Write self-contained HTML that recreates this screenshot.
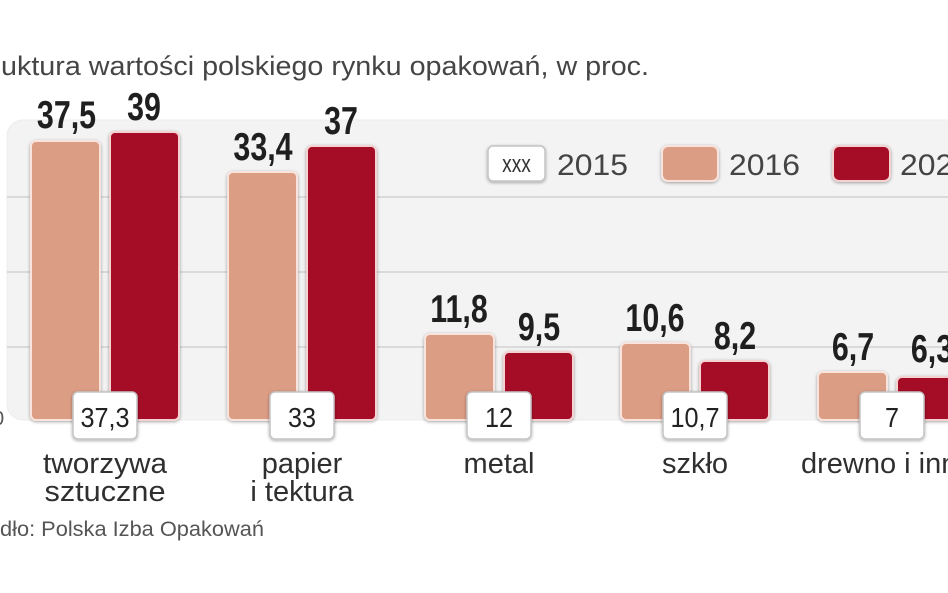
<!DOCTYPE html>
<html>
<head>
<meta charset="utf-8">
<style>
html,body{margin:0;padding:0;background:#fff;}
svg{display:block;}
</style>
</head>
<body>
<svg width="948" height="593" viewBox="0 0 948 593" xmlns="http://www.w3.org/2000/svg">
  <defs>
    <filter id="sh" x="-10%" y="-10%" width="120%" height="130%">
      <feGaussianBlur in="SourceAlpha" stdDeviation="1.5"/>
      <feOffset dx="0" dy="1" result="b"/>
      <feComponentTransfer><feFuncA type="linear" slope="0.35"/></feComponentTransfer>
      <feMerge><feMergeNode/><feMergeNode in="SourceGraphic"/></feMerge>
    </filter>
  </defs>

  <!-- title -->
  <text x="1" y="75" font-family="Liberation Sans, sans-serif" font-size="27" fill="#454545" textLength="648" lengthAdjust="spacingAndGlyphs">uktura wartości polskiego rynku opakowań, w proc.</text>

  <!-- panel -->
  <rect x="7" y="120" width="960" height="300" rx="16" ry="16" fill="#f3f3f3"/>
  <rect x="7" y="120" width="960" height="300" rx="16" ry="16" fill="none" stroke="#ececec" stroke-width="1"/>

  <!-- gridlines -->
  <g stroke="#d2d2d2" stroke-width="1.5">
    <line x1="7" y1="197" x2="948" y2="197"/>
    <line x1="7" y1="272" x2="948" y2="272"/>
    <line x1="7" y1="347" x2="948" y2="347"/>
  </g>

  <!-- zero label -->
  <text x="-7" y="425" font-family="Liberation Sans, sans-serif" font-size="20" fill="#555">0</text>

  <!-- legend -->
  <g filter="url(#sh)">
    <rect x="488" y="146" width="57" height="35" rx="5" fill="#fff" stroke="#c4c4c4" stroke-width="1.5"/>
    <rect x="662" y="146" width="56" height="35" rx="6" fill="#dc9d85" stroke="#f8e4dc" stroke-width="2"/>
    <rect x="833" y="146" width="57" height="35" rx="6" fill="#a50e28" stroke="#f5d2d2" stroke-width="2"/>
  </g>
  <text transform="translate(516.5,172) scale(0.8,1)" text-anchor="middle" font-family="Liberation Sans, sans-serif" font-size="24" fill="#333">xxx</text>
  <g font-family="Liberation Sans, sans-serif" font-size="30" fill="#444">
    <text x="557" y="175" textLength="71" lengthAdjust="spacingAndGlyphs">2015</text>
    <text x="729" y="175" textLength="71" lengthAdjust="spacingAndGlyphs">2016</text>
    <text x="900" y="175" textLength="71" lengthAdjust="spacingAndGlyphs">2020</text>
  </g>

  <!-- bars -->
  <g filter="url(#sh)">
    <g fill="#dc9d85" stroke="#f8e4dc" stroke-width="2">
      <rect x="31" y="141" width="69" height="279" rx="5"/>
      <rect x="228" y="172" width="69" height="248" rx="5"/>
      <rect x="425" y="334" width="69" height="86" rx="5"/>
      <rect x="621" y="343" width="69" height="77" rx="5"/>
      <rect x="818" y="372" width="69" height="48" rx="5"/>
    </g>
    <g fill="#a50e28" stroke="#f5d2d2" stroke-width="2">
      <rect x="110" y="132" width="69" height="288" rx="5"/>
      <rect x="307" y="146" width="69" height="274" rx="5"/>
      <rect x="504" y="352" width="69" height="68" rx="5"/>
      <rect x="700" y="361" width="69" height="59" rx="5"/>
      <rect x="897" y="377" width="69" height="43" rx="5"/>
    </g>
  </g>

  <!-- value labels -->
  <g font-family="Liberation Sans, sans-serif" font-weight="bold" font-size="39" fill="#1f1f1f" text-anchor="middle">
    <text transform="translate(66.5,128) scale(0.78,1)">37,5</text>
    <text transform="translate(144,120) scale(0.78,1)">39</text>
    <text transform="translate(263,160) scale(0.78,1)">33,4</text>
    <text transform="translate(341,134) scale(0.78,1)">37</text>
    <text transform="translate(459,322) scale(0.78,1)">11,8</text>
    <text transform="translate(539,340) scale(0.78,1)">9,5</text>
    <text transform="translate(655,331) scale(0.78,1)">10,6</text>
    <text transform="translate(735,349) scale(0.78,1)">8,2</text>
    <text transform="translate(853,360) scale(0.78,1)">6,7</text>
    <text transform="translate(932,362) scale(0.78,1)">6,3</text>
  </g>

  <!-- 2015 boxes -->
  <g filter="url(#sh)">
    <rect x="73" y="392" width="64" height="47" rx="5" fill="#fff" stroke="#c4c4c4" stroke-width="1.5"/>
    <rect x="270" y="392" width="64" height="47" rx="5" fill="#fff" stroke="#c4c4c4" stroke-width="1.5"/>
    <rect x="467" y="392" width="64" height="47" rx="5" fill="#fff" stroke="#c4c4c4" stroke-width="1.5"/>
    <rect x="663" y="392" width="64" height="47" rx="5" fill="#fff" stroke="#c4c4c4" stroke-width="1.5"/>
    <rect x="860" y="392" width="64" height="47" rx="5" fill="#fff" stroke="#c4c4c4" stroke-width="1.5"/>
  </g>
  <g font-family="Liberation Sans, sans-serif" font-size="28" fill="#222" text-anchor="middle">
    <text transform="translate(105,427) scale(0.9,1)">37,3</text>
    <text transform="translate(302,427) scale(0.9,1)">33</text>
    <text transform="translate(499,427) scale(0.9,1)">12</text>
    <text transform="translate(695,427) scale(0.9,1)">10,7</text>
    <text transform="translate(892,427) scale(0.9,1)">7</text>
  </g>

  <!-- category labels -->
  <g font-family="Liberation Sans, sans-serif" font-size="29" fill="#2f2f2f" text-anchor="middle">
    <text x="105" y="473" textLength="124" lengthAdjust="spacingAndGlyphs">tworzywa</text>
    <text x="105" y="501" textLength="121" lengthAdjust="spacingAndGlyphs">sztuczne</text>
    <text x="302" y="473">papier</text>
    <text x="302" y="501">i tektura</text>
    <text x="499" y="473">metal</text>
    <text x="695" y="473">szkło</text>
  </g>
  <text x="801" y="473" font-family="Liberation Sans, sans-serif" font-size="29" fill="#2f2f2f">drewno i inne</text>

  <!-- source -->
  <text x="0" y="536" font-family="Liberation Sans, sans-serif" font-size="21" fill="#555" textLength="264" lengthAdjust="spacingAndGlyphs">dło: Polska Izba Opakowań</text>
</svg>
</body>
</html>
